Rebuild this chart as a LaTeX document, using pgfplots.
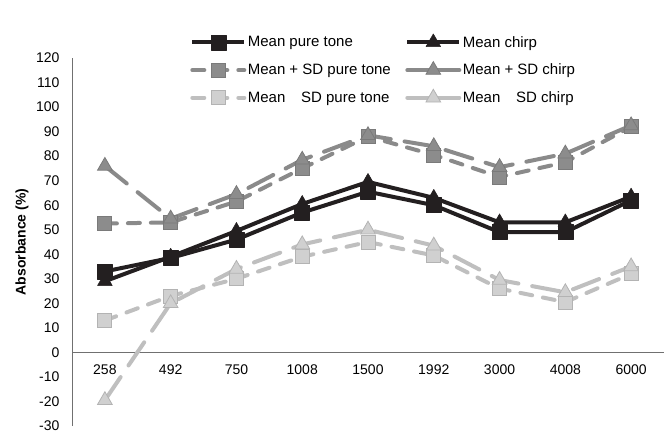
\documentclass[border=0pt]{standalone}
\usepackage{pgfplots}
\pgfplotsset{compat=1.18}
\usepackage{fontspec}
\setmainfont{Liberation Sans}
\definecolor{cblack}{HTML}{231F20}
\definecolor{cdark}{HTML}{8A8A8A}
\definecolor{cdarkfill}{HTML}{8C8C8C}
\definecolor{cdarkedge}{HTML}{7A7A7A}
\definecolor{clight}{HTML}{BFBFBF}
\definecolor{clightfill}{HTML}{D0D0D0}
\definecolor{clightedge}{HTML}{B3B3B3}
\definecolor{caxis}{HTML}{707070}
\begin{document}
\begin{tikzpicture}[x=1pt,y=1pt]
\useasboundingbox (0,0) rectangle (669,434);
\begin{axis}[
  at={(72pt,8pt)}, anchor=south west,
  width=592pt, height=368pt, scale only axis,
  xmin=-0.5, xmax=8.5, ymin=-30, ymax=120,
  axis x line=middle, axis y line=left,
  axis line style={draw=caxis, line width=0.8pt, -},
  xtick={0,...,8},
  xticklabels={258,492,750,1008,1500,1992,3000,4008,6000},
  ytick={-30,-20,...,120},
  major tick length=0pt,
  tick label style={font=\fontsize{14}{16}\selectfont},
  xticklabel style={yshift=-9pt},
  yticklabel style={xshift=-9pt},
  /pgf/number format/assume math mode=true,
  ylabel={Absorbance (\%)},
  every axis y label/.style={at={(axis description cs:0,0.5)}, xshift=-50pt, rotate=90, anchor=center, font=\fontsize{14}{16}\selectfont\bfseries},
  legend columns=2,
  legend cell align=left,
  legend style={at={(axis description cs:0.526,1.066)}, anchor=north, draw=none, fill=none,
    font=\fontsize{15}{17}\selectfont, row sep=11.5pt, inner sep=0pt,
    nodes={inner sep=1.5pt},
    /tikz/every even column/.append style={column sep=13pt}},
  legend image code/.code={\draw[mark repeat=2,mark phase=2,#1] plot coordinates {(0pt,0pt) (26pt,0pt) (52pt,0pt)};},
]
\addplot[cblack, line width=4pt, line join=round, mark=square*, mark size=7.5pt, mark options={solid, fill=cblack, draw=cblack, line width=0.5pt}]
  coordinates {(0,33) (1,38.5) (2,46) (3,57) (4,65.5) (5,60) (6,49) (7,49) (8,62)};
\addlegendentry{Mean pure tone}
\addplot[cblack, line width=4pt, line join=round, mark=triangle*, mark size=8.5pt, mark options={solid, fill=cblack, draw=cblack, line width=0.5pt}]
  coordinates {(0,29) (1,39) (2,49.5) (3,60.5) (4,69.5) (5,63) (6,53) (7,53) (8,63.5)};
\addlegendentry{Mean chirp}
\addplot[cdark, line width=4pt, line cap=round, dash pattern=on 12pt off 11pt, mark=square*, mark size=7pt, mark options={solid, fill=cdarkfill, draw=cdarkedge, line width=0.8pt}]
  coordinates {(0,52.5) (1,53) (2,61.5) (3,75) (4,88) (5,80.5) (6,71.5) (7,77.5) (8,92)};
\addlegendentry{Mean + SD pure tone}
\addplot[cdark, line width=4pt, line cap=round, dash pattern=on 28pt off 14pt, mark=triangle*, mark size=8.5pt, mark options={solid, fill=cdarkfill, draw=cdarkedge, line width=0.8pt}, legend image post style={solid}]
  coordinates {(0,76) (1,54.5) (2,64.5) (3,78.5) (4,88.5) (5,84) (6,75.5) (7,81) (8,92.5)};
\addlegendentry{Mean + SD chirp}
\addplot[clight, line width=4pt, line cap=round, dash pattern=on 12pt off 11pt, mark=square*, mark size=7pt, mark options={solid, fill=clightfill, draw=clightedge, line width=0.8pt}]
  coordinates {(0,13) (1,23) (2,30) (3,39) (4,45) (5,39.5) (6,26) (7,20.5) (8,32)};
\addlegendentry{Mean\hspace{1.05em}SD pure tone}
\addplot[clight, line width=4pt, line cap=round, dash pattern=on 28pt off 14pt, mark=triangle*, mark size=8.5pt, mark options={solid, fill=clightfill, draw=clightedge, line width=0.8pt}, legend image post style={solid}]
  coordinates {(0,-19.5) (1,20) (2,34) (3,44) (4,50) (5,43.5) (6,29.5) (7,24.5) (8,35)};
\addlegendentry{Mean\hspace{1.05em}SD chirp}
\end{axis}
\end{tikzpicture}
\end{document}
